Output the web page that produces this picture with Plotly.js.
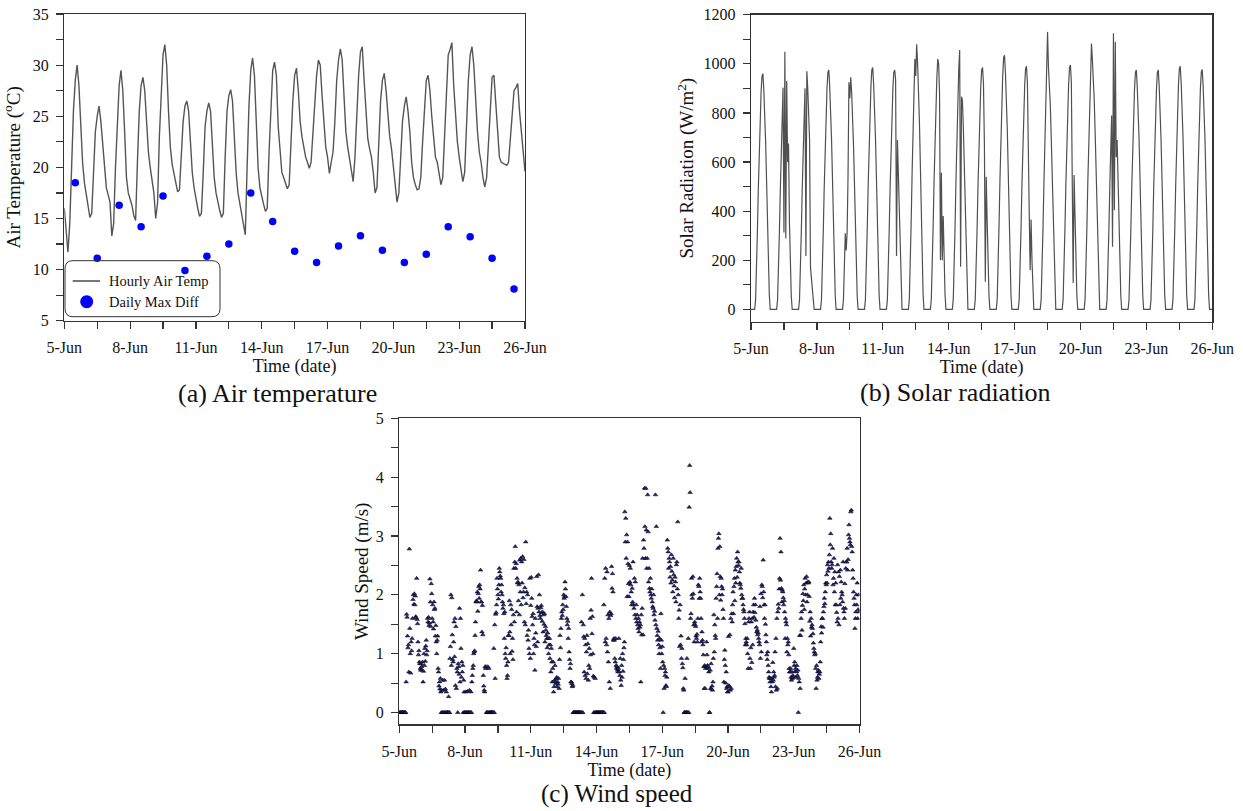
<!DOCTYPE html>
<html>
<head>
<meta charset="utf-8">
<script src="https://cdn.plot.ly/plotly-3.0.1.min.js"></script>
<style>html,body{margin:0;padding:0;background:#fff;} #chart{width:1243px;height:811px;}</style>
</head>
<body>
<div id="chart"></div>
<script>
// ---------------- DATA ----------------
const tickDays = [0, 3, 6, 9, 12, 15, 18, 21];
const tickLabels = ['5-Jun', '8-Jun', '11-Jun', '14-Jun', '17-Jun', '20-Jun', '23-Jun', '26-Jun'];

// Air temperature (°C), read every 2 h (00,02,...,22 h) for each day from 5-Jun
const tempByDay = [
  [16.0,13.6,11.7,14.5,21.0,25.5,28.5,30.0,28.0,24.0,20.5,18.5],
  [17.3,16.2,15.1,15.5,19.5,23.5,25.0,26.0,24.5,22.0,19.8,18.0],
  [17.3,16.6,13.3,14.5,20.0,25.0,28.0,29.5,27.5,23.5,19.0,17.5],
  [17.0,16.3,15.3,14.8,20.5,25.5,28.0,28.8,27.5,24.0,21.5,20.0],
  [18.8,17.5,15.0,16.5,23.0,28.0,31.0,32.0,30.0,25.5,22.0,20.3],
  [19.3,18.3,17.6,17.8,21.0,24.5,26.0,26.5,25.5,22.0,19.5,18.0],
  [16.8,16.0,15.2,15.5,19.5,24.0,25.5,26.3,25.5,22.0,19.0,17.5],
  [16.5,15.8,15.1,15.5,21.0,25.5,27.0,27.6,26.5,23.0,19.5,17.5],
  [16.5,15.5,14.2,13.4,20.0,26.0,29.5,30.7,29.0,24.0,20.0,18.0],
  [17.0,16.4,15.7,16.0,21.5,26.5,29.5,30.3,29.0,24.0,21.5,19.5],
  [19.0,18.5,17.9,18.3,22.5,26.5,29.0,29.7,27.5,24.5,23.0,22.0],
  [21.0,20.5,19.9,20.5,23.5,27.0,29.0,30.5,30.0,27.0,24.5,22.0],
  [21.0,19.4,20.5,21.5,24.5,28.5,30.5,31.6,30.5,27.0,23.5,22.0],
  [21.0,20.0,18.6,21.0,25.0,29.0,31.3,31.8,28.5,25.0,22.8,21.8],
  [21.0,19.5,17.5,18.0,22.5,26.5,28.5,29.2,27.5,25.0,23.0,21.8],
  [20.0,18.0,16.6,17.5,21.0,24.5,26.0,26.9,25.5,23.5,20.5,19.0],
  [18.3,17.8,17.9,19.0,22.5,26.0,28.5,29.0,27.5,25.0,22.5,21.0],
  [20.5,19.5,18.3,19.0,23.0,28.0,31.0,31.5,32.2,28.0,25.0,22.5],
  [21.0,20.0,18.6,19.5,24.0,28.5,31.0,31.8,30.0,26.0,23.5,21.5],
  [20.5,19.0,18.1,19.0,22.5,26.5,28.8,29.0,26.0,23.0,21.0,20.5],
  [20.4,20.3,20.2,20.5,23.0,26.0,27.5,27.8,28.2,25.5,23.5,21.5]
];
const tempLast = 19.6;

// Daily maximum temperature difference (°C), one value per day (plotted at noon)
const dailyMaxDiff = [18.5, 11.1, 16.3, 14.2, 17.2, 9.9, 11.3, 12.5, 17.5, 14.7, 11.8,
                      10.7, 12.3, 13.3, 11.9, 10.7, 11.5, 14.2, 13.2, 11.1, 8.1];

// Solar radiation (W/m2), hourly 00..23 h for each day
const solarByDay = [
  [0,0,0,0,0,38,154,317,490,643,778,883,950,960,893,806,682,528,355,192,58,0,0,0],
  [0,0,0,0,0,38,150,310,480,630,760,903,313,1049,289,930,600,676,355,190,55,0,0,0],
  [0,0,0,0,0,39,155,320,495,650,785,900,217,970,900,815,690,170,130,80,40,0,0,0],
  [0,0,0,0,0,39,156,322,497,653,790,897,965,975,907,819,692,536,361,195,59,0,0,0],
  [0,0,0,0,0,38,150,310,240,310,540,925,860,945,880,795,670,520,350,190,57,0,0,0],
  [0,0,0,0,0,39,158,325,502,660,798,906,975,985,916,827,699,542,364,197,59,0,0,0],
  [0,0,0,0,0,39,156,322,497,653,790,897,965,975,935,217,690,535,360,195,58,0,0,0],
  [0,0,0,0,0,43,173,356,551,724,875,1020,950,1080,1004,907,767,594,400,216,65,0,0,0],
  [0,0,0,0,0,41,163,337,520,683,826,938,1020,1000,880,200,556,200,380,205,60,0,0,0],
  [0,0,0,0,0,42,168,346,535,703,850,980,1056,174,866,850,740,575,385,210,62,0,0,0],
  [0,0,0,0,0,39,158,325,502,660,798,906,975,985,916,676,113,540,365,197,59,0,0,0],
  [0,0,0,0,0,41,166,342,528,693,838,952,1025,1035,963,869,735,569,383,207,62,0,0,0],
  [0,0,0,0,0,40,158,327,505,663,802,911,980,990,920,730,390,160,366,198,59,0,0,0],
  [0,0,0,0,0,40,158,327,505,663,802,905,1130,985,920,832,703,545,366,198,59,0,0,0],
  [0,0,0,0,0,40,159,328,507,667,806,915,985,995,925,608,108,547,368,199,60,0,0,0],
  [0,0,0,0,0,41,162,335,518,680,822,934,1083,1015,944,853,721,558,376,203,61,0,0,0],
  [0,0,0,0,0,39,156,322,497,653,790,255,1124,404,1090,620,690,535,360,195,59,0,0,0],
  [0,0,0,0,0,39,156,322,497,653,790,897,965,975,907,819,692,536,361,195,59,0,0,0],
  [0,0,0,0,0,39,156,322,497,653,790,897,965,975,907,819,692,536,361,195,59,0,0,0],
  [0,0,0,0,0,40,158,327,505,663,802,911,980,990,921,832,703,545,366,198,59,0,0,0],
  [0,0,0,0,0,39,156,322,498,655,791,899,967,977,909,821,694,537,361,195,59,0,0,0]
];
const solarLast = 0;

// Wind speed (m/s), half-hourly (48 values) for each day
const windByDay = [
  [0,0,0,0,0,0,0,0, 0,0,0,0,0,0,0,0.52, 1.67,1.62,1.3,1.1,1.15,0.69,2.78,1.43, 1.0,0.67,1.2,1.05,1.26,1.6,1.92,2.0, 1.84,2.02,1.83,1.98,1.63,1.61,2.28,1.58, 1.51,1.2,0.98,1.05,0.86,0.83,0.75,0.72],
  [0.83,0.78,0.72,0.86,0.52,0.7,1.0,0.8, 1.09,0.87,1.13,1.23,0.98,1.05,1.6,1.54, 1.62,1.48,1.52,2.27,1.88,1.46,2.19,2.02, 1.6,1.83,1.54,1.42,1.88,1.75,1.77,1.3, 1.48,1.2,1.0,1.23,1.3,0.75,0.69,0.45, 0.52,0.4,0.58,0.35,0,0.38,0,0.55],
  [0,0.38,0,0.55,0,0.4,0,0.35, 0,0,0,0,0.27,0,0,0.92, 1.12,2.0,0.8,1.95,1.32,0.9,0.86,1.2, 1.54,0.95,1.6,0.46,1.46,0.41,0.75,0.69, 0,0.83,0.78,0.65,1.77,0.52,1.6,1.09, 0.6,0.86,0.69,0.8,0,0.55,0.35,0],
  [0,0,0.35,0,0,0.36,0,0, 0,0,0.38,0,0,0.35,0,0.52, 0.63,0.75,0.8,1.0,1.03,1.05,1.31,1.54, 1.88,1.9,1.88,2.05,1.72,2.02,2.14,1.94, 2.17,2.1,2.42,1.88,1.88,1.37,1.82,1.32, 0.63,0.45,0.38,0.35,0.78,0.75,0.78,0],
  [0,0,0.78,0,0.75,0,0,0, 0,0,0,0,0,0,0,1.09, 0,1.49,0.58,1.67,1.7,1.83,2.28,2.1, 2.0,1.93,2.17,2.45,2.39,2.32,2.28,2.05, 2.17,2.0,1.88,1.77,1.83,1.68,1.26,1.71, 1.0,0.92,1.1,0.8,0.58,0.63,0.86,1.31],
  [1.31,1.9,1.37,1.0,1.83,1.49,1.75,1.04, 1.26,0.9,1.66,2.45,1.54,2.56,2.82,2.45, 2.53,1.71,2.28,2.2,2.22,1.9,2.17,1.66, 2.59,2.05,2.62,1.83,2.56,2.2,2.65,1.95, 2.05,2.6,1.54,2.12,1.49,2.9,1.85,2.05, 1.31,2.0,1.23,1.4,1.09,1.0,2.28,0.92],
  [1.82,2.3,1.94,1.63,1.49,1.68,1.0,1.26, 1.15,0.72,1.6,1.35,1.12,2.31,1.8,1.2, 1.77,2.34,1.71,2.0,1.65,1.6,1.78,1.82, 1.7,1.55,1.71,1.37,1.66,1.5,1.68,1.2, 1.46,1.4,1.31,1.26,1.1,1.35,1.26,1.0, 1.15,1.26,0.92,1.15,0.69,1.09,0.86,0.52],
  [0.75,0.86,0.35,0.44,0.55,0.8,0.52,0.49, 0.58,0.6,0.44,0.52,0.48,0.58,0.41,0.9, 1.31,1.1,1.43,1.6,1.71,1.65,1.83,1.75, 2.0,1.94,1.97,2.22,2.1,1.97,1.8,1.6, 1.49,1.55,1.26,1.43,1.03,0.9,0.75,0.83, 0.52,0.52,0.49,0.44,0.46,0,0,0],
  [0,0,0,0,0,0,0,0, 0,0,0,0,0,0,0,1.54, 0,2.0,0,1.49,1.29,0.69,1.26,0.63, 1.15,0.58,1.03,1.31,0.66,1.17,0.55,0.8, 1.09,0.75,1.6,0.98,1.74,2.28,1.34,1.63, 1.0,0.62,0,0.6,0,0.58,0,0],
  [0,0,0,0,0,0,0,0, 0,0,0,0,0,0,0,0, 1.83,0,2.28,1.2,2.45,1.26,1.15,2.39, 1.03,1.66,0.86,1.6,0.52,1.71,0.41,1.65, 1.68,2.48,2.11,2.36,2.05,1.23,1.26,1.23, 0.92,0.86,1.26,0.8,0.75,0.78,0.72,0.69],
  [0.75,1.26,0.69,0.63,0.92,0.55,0.46,0.8, 0.6,1.0,0.7,0.9,1.1,1.2,3.41,2.9, 3.3,2.62,3.02,1.97,2.9,2.53,2.19,1.97, 2.5,2.22,2.45,2.17,2.05,1.83,2.11,1.88, 2.56,1.83,1.77,2.28,1.66,2.22,1.6,1.83, 1.54,1.66,1.49,1.43,1.6,1.37,1.54,1.45],
  [1.49,0.52,1.66,1.32,1.77,2.62,1.32,2.93, 2.79,3.81,3.16,2.62,3.81,3.1,2.45,2.62, 3.7,3.07,2.22,2.45,2.11,2.05,2.28,2.0, 1.94,2.1,1.88,1.8,1.77,2.0,1.66,1.72, 1.57,3.7,1.49,3.16,1.43,1.31,1.23,1.38, 1.15,1.0,1.26,1.1,0.75,1.68,1.23,1.0],
  [1.12,0.86,0,0.8,0.41,0.75,0.63,0.69, 0.46,0.44,0.6,2.93,2.79,2.73,2.45,2.62, 2.56,2.3,2.48,2.2,2.68,2.4,2.25,2.05, 2.62,2.34,2.15,1.95,2.3,2.22,1.88,2.51, 2.56,2.1,3.24,2.0,1.6,1.74,1.12,1.83, 1.15,1.3,0.92,1.09,0.83,0.76,0.41,0.38],
  [0,0,0.58,0,0,0,0.92,0, 0,1.26,0,3.49,4.2,3.74,1.6,1.68, 2.28,2.0,1.94,2.31,2.02,1.49,1.2,1.54, 1.49,1.46,1.3,1.26,1.33,1.2,1.6,2.17, 2.14,1.94,2.28,2.05,1.94,1.6,1.2,1.37, 1.23,1.15,0.98,0.78,0.41,0.8,0.41,0.75],
  [0.78,1.2,0.98,0.8,0.75,0.78,0.69,0, 0,0.72,0.41,0.83,0.4,0.45,0.38,0.52, 0.92,1.66,1.03,1.49,1.31,1.26,1.94,2.14, 2.36,1.6,2.79,2.96,3.04,2.0,2.82,2.31, 1.91,2.28,2.14,2.0,2.1,1.75,1.6,0.52, 0.9,1.06,0.8,0.5,0.69,0.41,0.44,0.35],
  [0.35,1.29,0.46,0.44,1.32,0.38,1.6,0.41, 1.68,1.54,1.83,2.05,1.68,2.14,2.28,1.9, 2.42,2.2,2.48,2.62,2.3,2.73,2.56,2.5, 2.56,2.39,2.2,2.17,2.11,2.45,2.0,1.94, 1.94,1.83,1.75,1.71,1.6,1.51,1.15,1.26, 1.2,1.15,1.26,1.0,0.75,1.54,1.6,1.71],
  [0.92,0.75,1.1,1.54,0.85,1.6,1.15,1.71, 1.83,1.62,1.94,1.7,1.83,1.57,1.45,1.37, 1.4,1.32,1.35,1.26,1.2,1.15,1.8,0.92, 2.02,1.03,2.17,2.14,1.95,2.59,2.05,1.83, 1.6,1.83,1.5,1.32,1.2,0.98,0.9,1.03, 0.8,0.69,0.6,0.58,0.52,0.58,0.44,0.35],
  [0.58,0.52,0.85,0.55,0.69,0.6,0.63,1.03, 0.44,1.26,0.38,1.6,0.41,1.71,1.84,1.77, 2.1,2.28,2.96,2.25,2.73,2.11,1.88,2.08, 2.05,1.95,1.83,1.9,1.71,1.26,1.6,1.54, 1.49,1.03,1.26,1.15,1.2,0.98,0.75,0.69, 0.69,0.75,0.6,0.55,0.69,0.58,0.63,0.6],
  [1.09,0.8,0.86,0.7,0.75,0.6,0.69,0.8, 0.63,0.72,0,0.58,0.52,1.31,0.41,1.31, 1.6,1.71,1.4,1.82,2.02,1.9,2.17,1.75, 2.1,2.28,2.0,2.2,2.31,1.88,2.0,2.22, 2.2,2.22,1.97,1.55,1.71,1.3,1.6,1.45, 1.49,1.43,1.34,1.18,1.09,1.03,0.98,1.0],
  [0.75,0.41,0.8,0.55,0.6,0.69,0.72,0.58, 0.65,0.69,0.86,1.2,1.46,1.35,1.6,1.6, 1.45,1.71,1.8,1.94,1.85,2.05,2.2,2.17, 2.34,2.2,2.51,2.4,2.56,2.45,2.68,3.3, 2.85,3.04,2.56,2.45,2.51,2.79,2.17,2.28, 2.62,2.05,2.39,1.83,2.2,1.83,1.7,1.54],
  [2.51,1.6,2.39,1.49,2.31,1.83,2.42,1.94, 2.22,2.05,2.0,1.88,2.56,1.77,1.71,1.6, 2.19,1.77,2.45,2.56,2.56,2.79,2.42,2.6, 3.02,3.19,2.96,2.9,2.85,3.41,3.44,2.82, 2.73,2.42,2.28,2.05,1.94,1.83,1.43,1.6, 1.71,2.0,1.83,2.2,1.6,1.75,2.0,1.71]
];

// ---------------- BUILD SERIES ----------------
function flatten(byDay, last) {
  const out = [];
  byDay.forEach(d => d.forEach(v => out.push(v)));
  if (last !== undefined) out.push(last);
  return out;
}
const tempY = flatten(tempByDay, tempLast);
const tempX = tempY.map((v, i) => i / 12);
const solarY = flatten(solarByDay, solarLast);
const solarX = solarY.map((v, i) => i / 24);
const windY = flatten(windByDay);
const windX = windY.map((v, i) => i / 48);
const dailyX = dailyMaxDiff.map((v, i) => i + 0.5);

// ---------------- LAYOUT ----------------
const W = 1243, H = 811;
const fx = p => p / W;
const fy = p => 1 - p / H;
const FONT = '"Liberation Serif", "Times New Roman", Times, serif';
const INK = '#333333';

function xAxis(x0, x1, anchor) {
  return {
    domain: [fx(x0), fx(x1)], anchor: anchor, range: [0, 21],
    tickmode: 'array', tickvals: tickDays, ticktext: tickLabels,
    ticks: 'outside', ticklen: 7, tickwidth: 1.2, tickcolor: INK,
    minor: {tickmode: 'linear', tick0: 0, dtick: 1.5, ticks: 'outside', ticklen: 7, tickwidth: 1.2, tickcolor: INK},
    showline: true, mirror: true, linecolor: INK, linewidth: 1.3,
    showgrid: false, zeroline: false, fixedrange: true,
    tickfont: {family: FONT, size: 16, color: '#111'},
    ticklabelstandoff: 5,
    title: {text: 'Time (date)', font: {family: FONT, size: 18, color: '#111'}, standoff: 2}
  };
}
function yAxis(y0, y1, anchor, range, dtick, mdtick, title, standoff) {
  return {
    domain: [fy(y1), fy(y0)], anchor: anchor, range: range,
    tickmode: 'linear', tick0: 0, dtick: dtick,
    ticks: 'outside', ticklen: 7, tickwidth: 1.2, tickcolor: INK,
    minor: {tickmode: 'linear', tick0: 0, dtick: mdtick, ticks: 'outside', ticklen: 7, tickwidth: 1.2, tickcolor: INK},
    showline: true, mirror: true, linecolor: INK, linewidth: 1.3,
    showgrid: false, zeroline: false, fixedrange: true,
    tickfont: {family: FONT, size: 16, color: '#111'},
    ticklabelstandoff: 4,
    title: {text: title, font: {family: FONT, size: 19, color: '#111'}, standoff: standoff}
  };
}

const traces = [
  {x: tempX, y: tempY, xaxis: 'x', yaxis: 'y', type: 'scatter', mode: 'lines',
   name: 'Hourly Air Temp', line: {color: '#555555', width: 1.4}, hoverinfo: 'skip'},
  {x: dailyX, y: dailyMaxDiff, xaxis: 'x', yaxis: 'y', type: 'scatter', mode: 'markers',
   name: 'Daily Max Diff', marker: {color: '#0000ff', size: 7.5}, hoverinfo: 'skip'},
  {x: solarX, y: solarY, xaxis: 'x2', yaxis: 'y2', type: 'scatter', mode: 'lines',
   name: 'Solar Radiation', line: {color: '#505050', width: 1.2}, hoverinfo: 'skip'},
  {x: windX, y: windY, xaxis: 'x3', yaxis: 'y3', type: 'scatter', mode: 'markers',
   name: 'Wind Speed', marker: {symbol: 'triangle-up', size: 4, color: '#24247a', line: {color: '#000000', width: 0.5}}, hoverinfo: 'skip'}
];

// legend box (rounded) in paper coordinates
const bx0 = fx(65), bx1 = fx(220), byT = fy(260.7), byB = fy(316.7);
const rx = 8 / W, ry = 8 / H;
const boxPath = `M ${bx0 + rx},${byT} L ${bx1 - rx},${byT} Q ${bx1},${byT} ${bx1},${byT - ry} ` +
  `L ${bx1},${byB + ry} Q ${bx1},${byB} ${bx1 - rx},${byB} L ${bx0 + rx},${byB} ` +
  `Q ${bx0},${byB} ${bx0},${byB + ry} L ${bx0},${byT - ry} Q ${bx0},${byT} ${bx0 + rx},${byT} Z`;

const layout = {
  width: W, height: H, margin: {l: 0, r: 0, t: 0, b: 0},
  paper_bgcolor: '#ffffff', plot_bgcolor: 'rgba(0,0,0,0)',
  showlegend: false,
  font: {family: FONT, color: '#111'},
  xaxis: xAxis(64.3, 525, 'y'),
  yaxis: yAxis(14, 320.7, 'x', [5, 35], 5, 2.5, 'Air Temperature (<sup>o</sup>C)', 7),
  xaxis2: xAxis(751, 1212.3, 'y2'),
  yaxis2: yAxis(14.7, 321.7, 'x2', [-50, 1200], 200, 100, 'Solar Radiation (W/m<sup>2</sup>)', 4),
  xaxis3: xAxis(399.3, 859.5, 'y3'),
  yaxis3: yAxis(418.3, 724.3, 'x3', [-0.2, 5], 1, 0.5, 'Wind Speed (m/s)', 2),
  shapes: [
    {type: 'path', xref: 'paper', yref: 'paper', path: boxPath, fillcolor: 'rgba(255,255,255,0)',
     line: {color: INK, width: 1}, layer: 'above'},
    {type: 'line', xref: 'paper', yref: 'paper', x0: fx(72.7), x1: fx(100), y0: fy(281), y1: fy(281),
     line: {color: '#555555', width: 1.6}},
    {type: 'circle', xref: 'paper', yref: 'paper', x0: fx(80.2), x1: fx(93.2), y0: fy(308.2), y1: fy(295.2),
     fillcolor: '#0000ff', line: {color: '#0000ff', width: 0}}
  ],
  annotations: [
    {xref: 'paper', yref: 'paper', x: fx(107), y: fy(281), xanchor: 'left', yanchor: 'middle',
     text: 'Hourly Air Temp', showarrow: false, font: {family: FONT, size: 14.5, color: '#111'}},
    {xref: 'paper', yref: 'paper', x: fx(107), y: fy(301.7), xanchor: 'left', yanchor: 'middle',
     text: 'Daily Max Diff', showarrow: false, font: {family: FONT, size: 14.5, color: '#111'}},
    {xref: 'paper', yref: 'paper', x: fx(277.3), y: fy(394), xanchor: 'center', yanchor: 'middle',
     text: '(a) Air temperature', showarrow: false, font: {family: FONT, size: 26, color: '#111'}},
    {xref: 'paper', yref: 'paper', x: fx(955.8), y: fy(392), xanchor: 'center', yanchor: 'middle',
     text: '(b) Solar radiation', showarrow: false, font: {family: FONT, size: 26, color: '#111'}},
    {xref: 'paper', yref: 'paper', x: fx(616.8), y: fy(794), xanchor: 'center', yanchor: 'middle',
     text: '(c) Wind speed', showarrow: false, font: {family: FONT, size: 25, color: '#111'}}
  ]
};

Plotly.newPlot('chart', traces, layout, {staticPlot: true, displayModeBar: false});
</script>
</body>
</html>
